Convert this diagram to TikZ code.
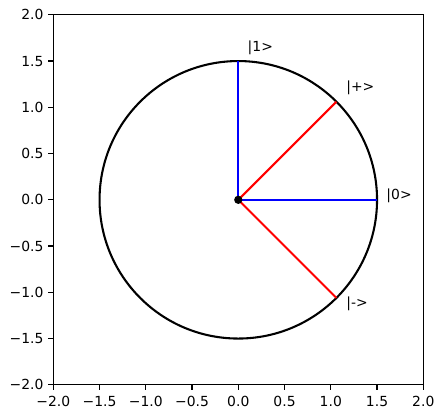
\documentclass[tikz,border=0pt]{standalone}
\usepackage{fontspec}
\setmainfont{DejaVu Sans}
\begin{document}
\begin{tikzpicture}[x=92.5pt,y=92.5pt,
  spine/.style={line width=1.11pt,line cap=rect},
  tickmark/.style={line width=1.11pt},
  ticklbl/.style={inner sep=0pt,font=\fontsize{13.9}{16}\selectfont},
  statelbl/.style={inner sep=0pt,anchor=base west,font=\fontsize{13.9}{16}\selectfont},
  vec/.style={line width=2.08pt},
]
\useasboundingbox (-2.5762,-2.3589) rectangle (2.2130,2.1600);
% axes frame
\draw[spine] (-2,-2) rectangle (2,2);
% ticks and labels
\foreach \v/\t in {-2/−2.0,-1.5/−1.5,-1/−1.0,-0.5/−0.5,0/0.0,0.5/0.5,1/1.0,1.5/1.5,2/2.0}{
  \draw[tickmark] (\v,-2) -- ++(0,-4.86pt);
  \node[ticklbl,anchor=base] (xl\v) at ([yshift=-21.4pt]\v,-2) {\t};
  \draw[tickmark] (-2,\v) -- ++(-4.86pt,0);
  \node[ticklbl,anchor=east] (yl\v) at ([xshift=-9.72pt]-2,\v) {\t};
}
% circle
\node[circle,draw,line width=2.08pt,minimum size=277.5pt,inner sep=0pt] (C) at (0,0) {};
\coordinate (O) at (0,0);
\coordinate (K0) at (1.5,0);
\coordinate (K1) at (0,1.5);
\coordinate (Kp) at (1.06066,1.06066);
\coordinate (Km) at (1.06066,-1.06066);
\draw[vec,blue] (O) -- (K0);
\draw[vec,blue] (O) -- (K1);
\draw[vec,red] (O) -- (Kp);
\draw[vec,red] (O) -- (Km);
\node[circle,fill=black,minimum size=8.3pt,inner sep=0pt] (dot) at (O) {};
% state labels
\node[statelbl] (l0) at (1.6,0) {|0>};
\node[statelbl] (l1) at (0.1,1.6) {|1>};
\node[statelbl] (lp) at (1.1667,1.1667) {|+>};
\node[statelbl] (lm) at (1.1667,-1.1667) {|->};
\end{tikzpicture}
\end{document}
